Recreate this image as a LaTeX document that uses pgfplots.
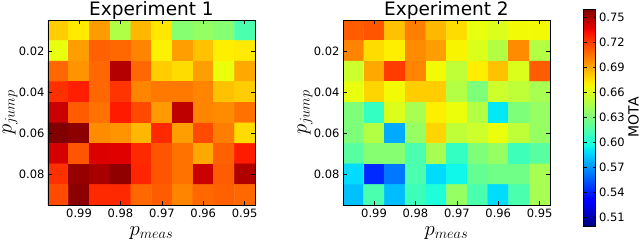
\documentclass[border=0pt]{standalone}
\usepackage{fontspec}
\setmainfont{DejaVu Sans}
\usepackage{pgfplots}
\pgfplotsset{compat=1.18}
\pgfkeys{/pgf/number format/assume math mode=true}
\pgfplotsset{
  colormap={mjet}{rgb(0pt)=(0,0,0.5) rgb(22pt)=(0,0,1) rgb(25pt)=(0,0,1) rgb(68pt)=(0,0.86,1) rgb(70pt)=(0,0.9,0.97) rgb(75pt)=(0.08,1,0.89) rgb(128pt)=(0.935,1,0.03) rgb(130pt)=(0.97,0.96,0) rgb(132pt)=(1,0.93,0) rgb(178pt)=(1,0.07,0) rgb(182pt)=(0.91,0,0) rgb(200pt)=(0.5,0,0)},
  hm/.style={
    scale only axis, width=207pt, height=185pt,
    x dir=reverse, y dir=reverse,
    xmin=0.9475, xmax=0.9975, ymin=0.005, ymax=0.095,
    enlargelimits=false, axis on top,
    scaled x ticks=false, scaled y ticks=false,
    colormap name=mjet, point meta min=0.499, point meta max=0.760,
    xtick={0.99,0.98,0.97,0.96,0.95},
    ytick={0.02,0.04,0.06,0.08},
    xticklabel style={/pgf/number format/fixed, /pgf/number format/fixed zerofill, /pgf/number format/precision=2},
    yticklabel style={/pgf/number format/fixed, /pgf/number format/fixed zerofill, /pgf/number format/precision=2},
    tick label style={font=\fontsize{11.5}{13}\selectfont},
    tick align=inside, major tick length=4pt,
    every tick/.style={black, line width=0.6pt},
    axis line style={black, line width=0.8pt},
    every axis title shift=0pt,
    title style={font=\fontsize{18.5}{21}\selectfont, at={(axis description cs:0.5,1.027)}, anchor=base},
    xlabel={\fontsize{20}{24}\selectfont$p_{meas}$},
    ylabel={\fontsize{20}{24}\selectfont$p_{jump}$},
    xlabel style={at={(axis description cs:0.5,-0.165)}, anchor=base},
    ylabel style={at={(axis description cs:-0.176,0.5)}, anchor=base, rotate=0},
  },
}
\begin{document}
\begin{tikzpicture}
\path[use as bounding box] (0,0) rectangle (640pt,-243pt);
\begin{axis}[hm, at={(48pt,-20pt)}, anchor=north west, title={Experiment 1}]
\addplot[matrix plot*, mesh/cols=10, point meta=explicit] table[meta=c]{
x y c
0.995 0.01 0.680
0.990 0.01 0.672
0.985 0.01 0.694
0.980 0.01 0.646
0.975 0.01 0.686
0.970 0.01 0.673
0.965 0.01 0.633
0.960 0.01 0.637
0.955 0.01 0.633
0.950 0.01 0.614
0.995 0.02 0.664
0.990 0.02 0.693
0.985 0.02 0.710
0.980 0.02 0.708
0.975 0.02 0.700
0.970 0.02 0.670
0.965 0.02 0.693
0.960 0.02 0.683
0.955 0.02 0.671
0.950 0.02 0.672
0.995 0.03 0.708
0.990 0.03 0.696
0.985 0.03 0.708
0.980 0.03 0.748
0.975 0.03 0.708
0.970 0.03 0.680
0.965 0.03 0.676
0.960 0.03 0.693
0.955 0.03 0.665
0.950 0.03 0.690
0.995 0.04 0.723
0.990 0.04 0.728
0.985 0.04 0.708
0.980 0.04 0.722
0.975 0.04 0.700
0.970 0.04 0.703
0.965 0.04 0.703
0.960 0.04 0.700
0.955 0.04 0.683
0.950 0.04 0.680
0.995 0.05 0.743
0.990 0.05 0.711
0.985 0.05 0.705
0.980 0.05 0.729
0.975 0.05 0.716
0.970 0.05 0.694
0.965 0.05 0.746
0.960 0.05 0.700
0.955 0.05 0.698
0.950 0.05 0.705
0.995 0.06 0.760
0.990 0.06 0.757
0.985 0.06 0.698
0.980 0.06 0.696
0.975 0.06 0.686
0.970 0.06 0.725
0.965 0.06 0.693
0.960 0.06 0.716
0.955 0.06 0.702
0.950 0.06 0.676
0.995 0.07 0.741
0.990 0.07 0.713
0.985 0.07 0.739
0.980 0.07 0.738
0.975 0.07 0.725
0.970 0.07 0.713
0.965 0.07 0.705
0.960 0.07 0.690
0.955 0.07 0.710
0.950 0.07 0.729
0.995 0.08 0.723
0.990 0.08 0.755
0.985 0.08 0.751
0.980 0.08 0.756
0.975 0.08 0.726
0.970 0.08 0.713
0.965 0.08 0.705
0.960 0.08 0.743
0.955 0.08 0.711
0.950 0.08 0.749
0.995 0.09 0.716
0.990 0.09 0.757
0.985 0.09 0.725
0.980 0.09 0.725
0.975 0.09 0.708
0.970 0.09 0.711
0.965 0.09 0.700
0.960 0.09 0.708
0.955 0.09 0.710
0.950 0.09 0.708
};
\end{axis}
\begin{axis}[hm, at={(343pt,-20pt)}, anchor=north west, title={Experiment 2},
  colorbar,
  colorbar style={
    scale only axis, width=12pt, height=217pt,
    at={(parent axis.north east)}, anchor=north west, xshift=25pt, yshift=11pt,
    scaled y ticks=false,
    ytick={0.51,0.54,0.57,0.60,0.63,0.66,0.69,0.72,0.75},
    yticklabel style={font=\fontsize{11.5}{13}\selectfont, /pgf/number format/fixed, /pgf/number format/fixed zerofill, /pgf/number format/precision=2},
    ytick align=inside, major tick length=3pt,
    every tick/.style={black, line width=0.5pt},
    axis line style={black, line width=0.8pt},
  }]
\addplot[matrix plot*, mesh/cols=10, point meta=explicit] table[meta=c]{
x y c
0.995 0.01 0.711
0.990 0.01 0.713
0.985 0.01 0.683
0.980 0.01 0.702
0.975 0.01 0.686
0.970 0.01 0.676
0.965 0.01 0.664
0.960 0.01 0.660
0.955 0.01 0.667
0.950 0.01 0.667
0.995 0.02 0.700
0.990 0.02 0.676
0.985 0.02 0.671
0.980 0.02 0.698
0.975 0.02 0.693
0.970 0.02 0.669
0.965 0.02 0.660
0.960 0.02 0.647
0.955 0.02 0.698
0.950 0.02 0.647
0.995 0.03 0.655
0.990 0.03 0.690
0.985 0.03 0.720
0.980 0.03 0.700
0.975 0.03 0.667
0.970 0.03 0.651
0.965 0.03 0.671
0.960 0.03 0.683
0.955 0.03 0.660
0.950 0.03 0.711
0.995 0.04 0.664
0.990 0.04 0.678
0.985 0.04 0.667
0.980 0.04 0.680
0.975 0.04 0.680
0.970 0.04 0.647
0.965 0.04 0.630
0.960 0.04 0.655
0.955 0.04 0.651
0.950 0.04 0.643
0.995 0.05 0.630
0.990 0.05 0.607
0.985 0.05 0.660
0.980 0.05 0.643
0.975 0.05 0.671
0.970 0.05 0.665
0.965 0.05 0.647
0.960 0.05 0.591
0.955 0.05 0.630
0.950 0.05 0.638
0.995 0.06 0.630
0.990 0.06 0.647
0.985 0.06 0.575
0.980 0.06 0.638
0.975 0.06 0.678
0.970 0.06 0.651
0.965 0.06 0.655
0.960 0.06 0.665
0.955 0.06 0.651
0.950 0.06 0.638
0.995 0.07 0.618
0.990 0.07 0.633
0.985 0.07 0.633
0.980 0.07 0.614
0.975 0.07 0.643
0.970 0.07 0.607
0.965 0.07 0.630
0.960 0.07 0.638
0.955 0.07 0.610
0.950 0.07 0.618
0.995 0.08 0.588
0.990 0.08 0.542
0.985 0.08 0.562
0.980 0.08 0.614
0.975 0.08 0.588
0.970 0.08 0.595
0.965 0.08 0.622
0.960 0.08 0.626
0.955 0.08 0.626
0.950 0.08 0.643
0.995 0.09 0.581
0.990 0.09 0.614
0.985 0.09 0.580
0.980 0.09 0.610
0.975 0.09 0.600
0.970 0.09 0.638
0.965 0.09 0.614
0.960 0.09 0.588
0.955 0.09 0.614
0.950 0.09 0.643
};
\end{axis}
\node[rotate=90, anchor=base, font=\fontsize{14}{16}\selectfont, inner sep=0pt] at (638.5pt,-117.5pt) {MOTA};
\end{tikzpicture}
\end{document}
